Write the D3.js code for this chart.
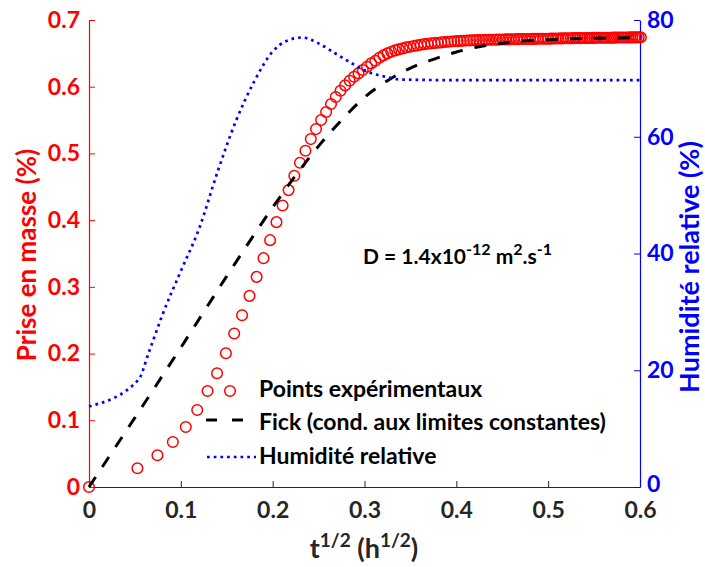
<!DOCTYPE html>
<html><head><meta charset="utf-8">
<script src="https://cdn.jsdelivr.net/npm/d3@7"></script>
<style>
body{margin:0;background:#fff;}
text{font-family:Lato,"Open Sans",sans-serif;font-weight:700;}
</style></head>
<body>
<svg id="c" width="705" height="567"></svg>
<script>
// time of each measurement (s)
const timeS = [0,10,20,30,40,50,60,70,80,90,100,110,120,130,140,150,160,170,180,190,200,210,220,230,240,250,260,270,280,290,300,310,320,330,340,350,360,370,380,390,400,410,420,430,440,450,460,470,480,490,500,510,520,530,540,550,560,570,580,590,600,610,620,630,640,650,660,670,680,690,700,710,720,730,740,750,760,770,780,790,800,810,820,830,840,850,860,870,880,890,900,910,920,930,940,950,960,970,980,990,1000,1010,1020,1030,1040,1050,1060,1070,1080,1090,1100,1110,1120,1130,1140,1150,1160,1170,1180,1190,1200,1210,1220,1230,1240,1250,1260,1270,1280,1290,1300];
// mass gain (%)
const massGain = [0,0.028,0.0475,0.0675,0.090,0.1154,0.144,0.1705,0.2004,0.230,0.2575,0.2865,0.315,0.343,0.370,0.397,0.422,0.445,0.4665,0.486,0.504,0.5215,0.5365,0.550,0.562,0.574,0.5845,0.594,0.602,0.609,0.615,0.620,0.625,0.630,0.635,0.639,0.6435,0.647,0.650,0.6525,0.6545,0.656,0.6575,0.659,0.660,0.661,0.662,0.663,0.6638,0.6645,0.665,0.6655,0.666,0.6665,0.667,0.6675,0.6678,0.6681,0.6684,0.6687,0.669,0.6692,0.6694,0.6696,0.6698,0.670,0.6701,0.6702,0.6703,0.6704,0.6705,0.6706,0.6707,0.6708,0.6709,0.671,0.6711,0.6712,0.6713,0.6714,0.6715,0.6715,0.6716,0.6716,0.6717,0.6717,0.6718,0.6718,0.6719,0.6719,0.672,0.6721,0.6722,0.6722,0.6723,0.6724,0.6725,0.6726,0.6726,0.6727,0.6728,0.6728,0.6729,0.6729,0.673,0.673,0.6731,0.6731,0.6732,0.6732,0.6733,0.6733,0.6734,0.6734,0.6735,0.6735,0.6735,0.6736,0.6736,0.6737,0.6737,0.6737,0.6738,0.6738,0.6738,0.6739,0.6739,0.6739,0.674,0.674,0.674];
// Fick model
const fickX = [0,0.05,0.1,0.15,0.2,0.225,0.25,0.275,0.3,0.325,0.35,0.375,0.4,0.425,0.45,0.475,0.5,0.55,0.6];
const fickY = [0,0.104,0.209,0.316,0.419,0.467,0.511,0.550,0.584,0.609,0.628,0.641,0.652,0.660,0.665,0.669,0.6705,0.6727,0.6733];
// relative humidity (%)
const rhX = [0,0.054,0.065,0.08,0.1,0.12,0.14,0.16,0.18,0.2,0.215,0.232,0.25,0.268,0.286,0.304,0.322,0.34,0.4,0.5,0.6];
const rhY = [13.8,18.4,23.0,29.5,37.0,44.3,54.0,62.7,69.5,74.6,76.4,77.0,76.0,74.3,72.6,71.1,70.3,69.8,69.7,69.7,69.7];
const xTicks = [0,0.1,0.2,0.3,0.4,0.5,0.6];
const yLeftTicks = [0,0.1,0.2,0.3,0.4,0.5,0.6,0.7];
const yRightTicks = [0,20,40,60,80];
const legendLabels = ["Points expérimentaux","Fick (cond. aux limites constantes)","Humidité relative"];

const svg = d3.select("#c");
const L=89,R=640,T=20,B=487;
const x = d3.scaleLinear().domain([0,0.6]).range([L,R]);
const yL = d3.scaleLinear().domain([0,0.7]).range([B,T]);
const yR = d3.scaleLinear().domain([0,80]).range([B,T]);
const RED="#ff0000",BLUE="#0000ff";
const FS=23;

// axes
const ax = svg.append("g").attr("transform",`translate(0,${B})`)
  .call(d3.axisBottom(x).tickValues(xTicks).tickSizeInner(-6).tickSizeOuter(0).tickPadding(15).tickFormat(d=>d===0?"0":d3.format(".1f")(d)));
ax.select(".domain").attr("stroke","#262626").attr("stroke-width",1.2);
ax.selectAll(".tick line").attr("stroke","#262626");
ax.selectAll("text").attr("font-size",FS).attr("fill","#262626").attr("font-family","Lato,sans-serif");

const al = svg.append("g").attr("transform",`translate(${L},0)`)
  .call(d3.axisLeft(yL).tickValues(yLeftTicks).tickSizeInner(-6).tickSizeOuter(0).tickPadding(9).tickFormat(d=>d===0?"0":d3.format(".1f")(d)));
al.select(".domain").attr("stroke",RED).attr("stroke-width",1.2);
al.selectAll(".tick line").attr("stroke",RED);
al.selectAll("text").attr("font-size",FS).attr("fill",RED).attr("font-family","Lato,sans-serif");

const ar = svg.append("g").attr("transform",`translate(${R},0)`)
  .call(d3.axisRight(yR).tickValues(yRightTicks).tickSizeInner(-6).tickSizeOuter(0).tickPadding(7));
ar.select(".domain").attr("stroke",BLUE).attr("stroke-width",1.2);
ar.selectAll(".tick line").attr("stroke",BLUE);
ar.selectAll("text").attr("font-size",FS).attr("fill",BLUE).attr("font-family","Lato,sans-serif");
ar.selectAll(".tick").filter(d=>d===0).select("text").attr("dy","0.2em");

// experimental points
svg.append("g").selectAll("circle").data(timeS).join("circle")
  .attr("cx",(t)=>x(Math.sqrt(t/3600)))
  .attr("cy",(t,i)=>yL(massGain[i]))
  .attr("r",5.3).attr("fill","none").attr("stroke",RED).attr("stroke-width",1.5);

// Fick
svg.append("path").datum(fickX.map((v,i)=>[v,fickY[i]]))
  .attr("d",d3.line().x(d=>x(d[0])).y(d=>yL(d[1])).curve(d3.curveMonotoneX))
  .attr("fill","none").attr("stroke","#000").attr("stroke-width",3).attr("stroke-dasharray","12,12");

// RH
svg.append("path").datum(rhX.map((v,i)=>[v,rhY[i]]))
  .attr("d",d3.line().x(d=>x(d[0])).y(d=>yR(d[1])).curve(d3.curveMonotoneX))
  .attr("fill","none").attr("stroke",BLUE).attr("stroke-width",2.7).attr("stroke-dasharray","2.7,4");

// legend
const lg = svg.append("g");
const ly=[390,423,457];
lg.append("circle").attr("cx",230).attr("cy",ly[0]+1).attr("r",5.3).attr("fill","none").attr("stroke",RED).attr("stroke-width",1.5);
lg.append("line").attr("x1",206).attr("x2",243).attr("y1",ly[1]-3).attr("y2",ly[1]-3).attr("stroke","#000").attr("stroke-width",3).attr("stroke-dasharray","11,15");
lg.append("line").attr("x1",207).attr("x2",256).attr("y1",ly[2]).attr("y2",ly[2]).attr("stroke",BLUE).attr("stroke-width",2.7).attr("stroke-dasharray","2.7,4");
lg.selectAll("text").data(legendLabels).join("text")
  .attr("x",259).attr("y",(d,i)=>ly[i]+7).attr("font-size",FS).attr("fill","#000").text(d=>d);

// annotation
const an = svg.append("text").attr("x",363).attr("y",264).attr("font-size",21).attr("fill","#000");
an.append("tspan").text("D = 1.4x10");
an.append("tspan").attr("font-size",16).attr("dy",-9).text("-12");
an.append("tspan").attr("dy",9).text(" m");
an.append("tspan").attr("font-size",16).attr("dy",-9).text("2");
an.append("tspan").attr("dy",9).text(".s");
an.append("tspan").attr("font-size",16).attr("dy",-9).text("-1");

// axis titles
const xt = svg.append("text").attr("x",364).attr("y",558).attr("text-anchor","middle").attr("font-size",27).attr("fill","#262626");
xt.append("tspan").text("t");
xt.append("tspan").attr("font-size",19).attr("dy",-11).text("1/2");
xt.append("tspan").attr("dy",11).text(" (h");
xt.append("tspan").attr("font-size",19).attr("dy",-11).text("1/2");
xt.append("tspan").attr("dy",11).text(")");

svg.append("text").attr("transform","translate(36,255) rotate(-90)").attr("text-anchor","middle")
  .attr("font-size",26).attr("fill",RED).text("Prise en masse (%)");
svg.append("text").attr("transform","translate(699,267) rotate(-90)").attr("text-anchor","middle")
  .attr("font-size",27).attr("fill",BLUE).text("Humidité relative (%)");
</script>
</body></html>
